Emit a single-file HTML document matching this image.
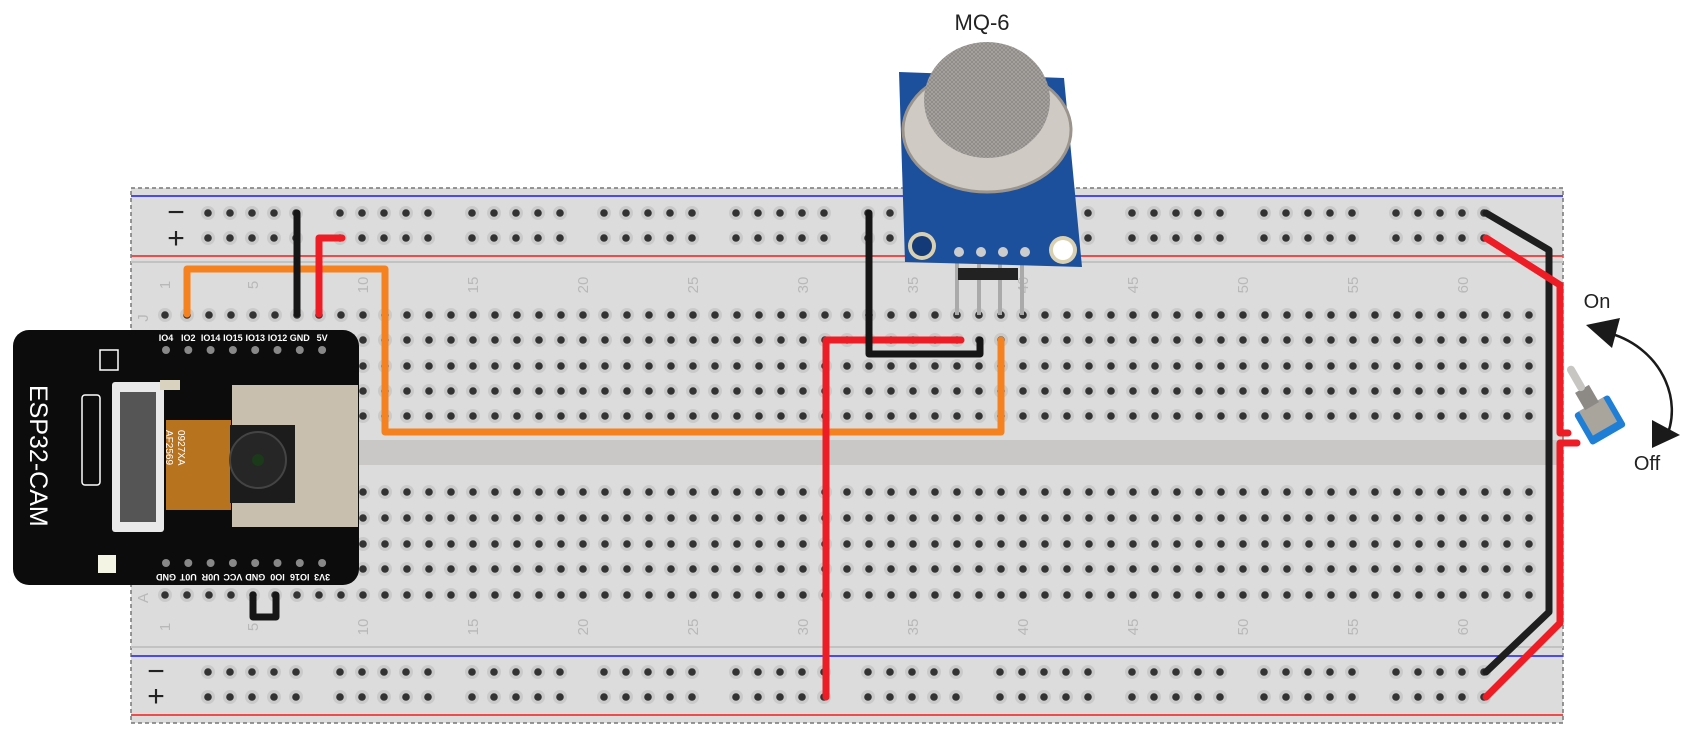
<!DOCTYPE html>
<html><head><meta charset="utf-8"><style>
html,body{margin:0;padding:0;background:#fff;}
svg{display:block;font-family:"Liberation Sans",sans-serif;}
</style></head><body>
<svg id="s" width="1700" height="741" viewBox="0 0 1700 741" xmlns="http://www.w3.org/2000/svg">
<defs>
<pattern id="mesh" width="4" height="4" patternUnits="userSpaceOnUse"><rect width="4" height="4" fill="#8a8784"/><path d="M0 0L4 4M4 0L0 4" stroke="#a9a6a2" stroke-width="0.8"/></pattern>
</defs>
<g>
<rect x="131" y="188" width="1432" height="535" fill="#dcdcdc" stroke="#777" stroke-width="1.5" stroke-dasharray="4,3"/>
<rect x="131" y="440" width="1432" height="25" fill="#cac8c6"/>
<line x1="131" y1="196" x2="1563" y2="196" stroke="#4a4af5" stroke-width="2"/>
<line x1="131" y1="256" x2="1563" y2="256" stroke="#f04a4a" stroke-width="2"/>
<line x1="131" y1="262" x2="1563" y2="262" stroke="#c2c2c2" stroke-width="2"/>
<line x1="131" y1="647" x2="1563" y2="647" stroke="#c2c2c2" stroke-width="2"/>
<line x1="131" y1="656" x2="1563" y2="656" stroke="#4a4af5" stroke-width="2"/>
<line x1="131" y1="715" x2="1563" y2="715" stroke="#f04a4a" stroke-width="2"/>
<text x="176" y="222" font-size="30" fill="#222" text-anchor="middle">−</text>
<text x="176" y="248" font-size="30" fill="#222" text-anchor="middle">+</text>
<text x="156" y="681" font-size="30" fill="#222" text-anchor="middle">−</text>
<text x="156" y="706" font-size="30" fill="#222" text-anchor="middle">+</text>
<g id="holes"></g>
<g id="labels" fill="#b8b8b8" font-size="15"></g>
</g>

<g>
<rect x="13" y="330" width="346" height="255" rx="16" fill="#0c0c0c"/>
<text transform="translate(30,385) rotate(90)" font-size="25" fill="#fff">ESP32-CAM</text>
<rect x="112" y="382" width="52" height="150" fill="#e9e9e9" rx="3"/>
<rect x="120" y="392" width="36" height="130" fill="#555"/>
<rect x="82" y="395" width="18" height="90" fill="none" stroke="#fff" stroke-width="1.5" rx="3"/>
<rect x="166" y="420" width="65" height="90" fill="#b8731f"/>
<text transform="translate(178,430) rotate(90)" font-size="10" fill="#fff">0927XA</text>
<text transform="translate(166,430) rotate(90)" font-size="10" fill="#fff">AF2569</text>
<rect x="232" y="385" width="126" height="142" fill="#c9bfae"/>
<rect x="230" y="425" width="65" height="78" fill="#1c1c1c"/>
<circle cx="258" cy="460" r="28" fill="#262626" stroke="#444" stroke-width="2"/>
<circle cx="258" cy="460" r="6" fill="#1a3a1a"/>
<rect x="98" y="555" width="18" height="18" fill="#f4f4e4"/>
<rect x="160" y="380" width="20" height="10" fill="#d9d2bf"/>
<rect x="100" y="350" width="18" height="20" fill="none" stroke="#fff" stroke-width="1.5"/>
<g id="esppins" font-size="9" fill="#fff" font-weight="bold" text-anchor="middle"></g>
</g>

<g>
<text x="982" y="30" font-size="22" fill="#222" text-anchor="middle">MQ-6</text>
<g stroke="#aaa" stroke-width="4">
<line x1="957" y1="262" x2="957" y2="315"/><line x1="979" y1="262" x2="979" y2="315"/><line x1="1000" y1="262" x2="1000" y2="315"/><line x1="1022" y1="262" x2="1022" y2="315"/>
</g>
<rect x="958" y="268" width="60" height="12" fill="#222"/>
<polygon points="899,72 1064,78 1082,267 905,262" fill="#1c4f9c"/>
<circle cx="922" cy="246" r="14" fill="#d8d0b0"/><circle cx="922" cy="246" r="10" fill="#143a78"/>
<circle cx="1063" cy="250" r="14" fill="#d8d0b0"/><circle cx="1063" cy="250" r="10" fill="#fff"/>
<circle cx="959" cy="252" r="5" fill="#ccc"/><circle cx="981" cy="252" r="5" fill="#ccc"/><circle cx="1003" cy="252" r="5" fill="#ccc"/><circle cx="1025" cy="252" r="5" fill="#ccc"/>
<ellipse cx="987" cy="130" rx="84" ry="62" fill="#cfcac3" stroke="#9a948c" stroke-width="3"/>
<ellipse cx="987" cy="100" rx="63" ry="58" fill="url(#mesh)"/>
</g>

<g fill="none" stroke-width="7" stroke-linecap="round" stroke-linejoin="round">
<path d="M187,314 V269 H385 V432 H1001 V340" stroke="#f5821f"/>
<path d="M297,213 V314" stroke="#161616"/>
<path d="M342,238 H319 V314" stroke="#ee1c24"/>
<path d="M826,697 V340 H961" stroke="#ee1c24"/>
<path d="M869,213 V354 H980 V340" stroke="#161616"/>
<path d="M253,595 V617 H276 V595" stroke="#161616"/>
<path d="M1486,213 L1549,250 V612 L1486,672" stroke="#1e1e1e"/>
<path d="M1486,238 L1560,285 V433 H1568" stroke="#ee1c24"/>
<path d="M1577,443 H1560 V623 L1486,697" stroke="#ee1c24"/>
</g>

<g>
<g transform="translate(1600,420) rotate(-30)">
<rect x="-20" y="-18" width="40" height="36" fill="#1f7fd6" rx="3"/>
<rect x="-14" y="-18" width="28" height="28" fill="#a9a49c"/>
<rect x="-8" y="-36" width="16" height="20" fill="#8d8a85"/>
<rect x="-4" y="-62" width="8" height="28" fill="#c8c6c2" rx="4"/>
</g>
</g>
<g>
<path d="M1605,332 C1660,345 1685,400 1665,440" fill="none" stroke="#1a1a1a" stroke-width="2.5"/>
<polygon points="1586,325 1620,318 1612,348" fill="#1a1a1a"/>
<polygon points="1652,420 1680,435 1652,448" fill="#1a1a1a"/>
<text x="1597" y="308" font-size="20" fill="#222" text-anchor="middle">On</text>
<text x="1647" y="470" font-size="20" fill="#222" text-anchor="middle">Off</text>
</g>
</svg>
<script>
const columnCount = 63;
const railGroups = 10;
const topRowNames = ["J","I","H","G","F"];
const bottomRowNames = ["E","D","C","B","A"];
const columnLabels = [1,5,10,15,20,25,30,35,40,45,50,55,60];
const topPinNames = ["IO4","IO2","IO14","IO15","IO13","IO12","GND","5V"];
const bottomPinNames = ["GND","U0T","U0R","VCC","GND","IO0","IO16","3V3"];
const NS="http://www.w3.org/2000/svg";
const colX = c => 165 + (c-1)*22;
const topRowY = [315,340,366,391,416];
const botRowY = [492,518,544,569,595];
const railY = [213,238,672,697];
const holes=document.getElementById('holes');
function hole(x,y,name){
  const g=document.createElementNS(NS,'g');
  
  
  const a=document.createElementNS(NS,'circle');a.setAttribute('cx',x);a.setAttribute('cy',y);a.setAttribute('r',7);a.setAttribute('fill','#cacaca');
  const b=document.createElementNS(NS,'circle');b.setAttribute('cx',x);b.setAttribute('cy',y);b.setAttribute('r',3.8);b.setAttribute('fill','#333');
  g.appendChild(a);g.appendChild(b);holes.appendChild(g);
}
for(let c=1;c<=columnCount;c++){
  topRowNames.forEach((r,i)=>hole(colX(c),topRowY[i],'hole-'+r+c));
  bottomRowNames.forEach((r,i)=>hole(colX(c),botRowY[i],'hole-'+r+c));
}
for(let g=0;g<railGroups;g++)for(let i=0;i<5;i++){
  const x=208+22*(g*6+i);
  railY.forEach(y=>hole(x,y,'rail-hole'));
}
const lab=document.getElementById('labels');
columnLabels.forEach(n=>{
  [285,627].forEach(y=>{
    const t=document.createElementNS(NS,'text');
    
    
    t.setAttribute('transform','translate('+(colX(n)+5)+','+y+') rotate(-90)');
    t.setAttribute('text-anchor','middle');
    t.textContent=n;lab.appendChild(t);
  });
});
[["J",318],["A",598]].forEach(([l,y])=>{
  const t=document.createElementNS(NS,'text');
  
  
  t.setAttribute('transform','translate(148,'+y+') rotate(-90)');
  t.setAttribute('text-anchor','middle');
  t.textContent=l;lab.appendChild(t);
});
const ep=document.getElementById('esppins');
topPinNames.forEach((n,i)=>{
  const x=166+22.3*i;
  const t=document.createElementNS(NS,'text');
  
  
  t.setAttribute('x',x);t.setAttribute('y',341);t.textContent=n;ep.appendChild(t);
  const c=document.createElementNS(NS,'circle');
  
  
  c.setAttribute('cx',x);c.setAttribute('cy',350);c.setAttribute('r',4);c.setAttribute('fill','#888');ep.appendChild(c);
});
bottomPinNames.forEach((n,i)=>{
  const x=166+22.3*i;
  const t=document.createElementNS(NS,'text');
  
  
  t.setAttribute('transform','translate('+x+',574) rotate(180)');t.textContent=n;ep.appendChild(t);
  const c=document.createElementNS(NS,'circle');
  
  
  c.setAttribute('cx',x);c.setAttribute('cy',563);c.setAttribute('r',4);c.setAttribute('fill','#888');ep.appendChild(c);
});
</script>
</body></html>
